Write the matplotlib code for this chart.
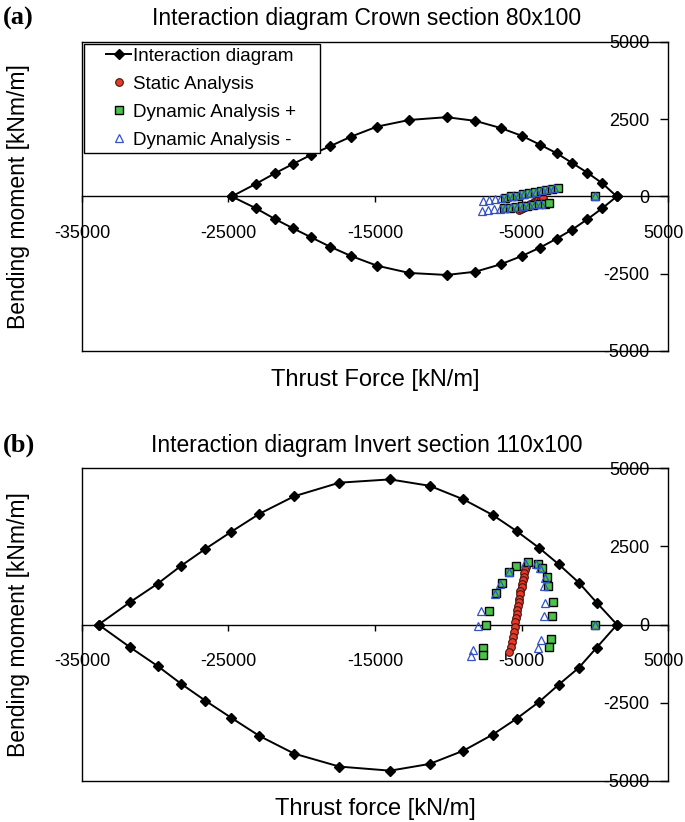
import matplotlib
matplotlib.use("Agg")
import matplotlib.pyplot as plt
import matplotlib.transforms as mtransforms
from matplotlib.lines import Line2D
from matplotlib.legend_handler import HandlerLine2D

plt.rcParams['font.family'] = ['Liberation Sans', 'DejaVu Sans']

# ------------------------------------------------------
# Crown section 80x100 (panel a)
# ------------------------------------------------------
crown_N = [-24780, -23140, -21830, -20600, -19370, -18070, -16640, -14860, -12660,
           -10110, -8150, -6420, -4970, -3740, -2600, -1550, -510, 520, 1500]
crown_M_top = [0, 405, 750, 1050, 1345, 1625, 1935, 2260, 2475,
               2565, 2445, 2215, 1960, 1675, 1400, 1085, 770, 425, 0]
crown_M_bot = [0, -380, -730, -1030, -1320, -1625, -1925, -2240, -2475,
               -2540, -2435, -2195, -1925, -1655, -1365, -1075, -740, -380, 0]

crown_static_N = [-5180, -5040, -4890, -4760, -4590, -4440, -4310, -4140, -3990, -3860, -3690, -3540]
crown_static_M = [-435, -400, -370, -330, -300, -255, -230, -185, -160, -115, -90, -45]

crown_dynp_N = [-6100, -5700, -5300, -4900, -4500, -4100, -3700, -3300, -2900, -2500,
                -6200, -5800, -5400, -5000, -4600, -4200, -3800, -3400, -3100, 0]
crown_dynp_M = [-40, 0, 30, 70, 100, 140, 170, 205, 240, 260,
                -385, -365, -340, -320, -300, -280, -255, -235, -215, 0]

crown_dynm_N = [-7600, -7200, -6800, -6400, -6000, -5600, -5200, -4800, -4400, -4000, -3600, -3200, -2800,
                -7700, -7300, -6900, -6500, -6100, -5700, -5300, -4900, -4500, -4100, -3700, 0]
crown_dynm_M = [-160, -120, -90, -55, -20, 15, 50, 90, 120, 160, 195, 235, 270,
                -470, -440, -420, -395, -375, -350, -330, -305, -285, -260, -240, 0]

# ------------------------------------------------------
# Invert section 110x100 (panel b)
# ------------------------------------------------------
invert_N = [-33870, -31730, -29820, -28240, -26570, -24810, -22890, -20520, -17430,
            -13970, -11270, -8960, -6960, -5330, -3800, -2450, -1090, 130, 1520]
invert_M_top = [0, 715, 1315, 1880, 2425, 2970, 3545, 4105, 4540,
                4645, 4440, 4005, 3505, 2990, 2455, 1925, 1345, 705, 0]
invert_M_bot = [0, -720, -1330, -1890, -2435, -2980, -3560, -4125, -4540,
                -4670, -4455, -4030, -3515, -3005, -2470, -1915, -1380, -735, 0]

invert_static_N = [-4720, -4770, -4810, -4860, -4910, -4950, -5000, -5070, -5110, -5150, -5200,
                   -5250, -5290, -5340, -5390, -5430, -5470, -5540, -5610, -5680, -5750, -5820]
invert_static_M = [1850, 1740, 1640, 1530, 1420, 1310, 1190, 1080, 970, 830, 720,
                   600, 480, 350, 220, 80, -80, -220, -400, -560, -720, -860]

invert_dynp_N = [-4590, -5400, -5820, -6350, -6720, -7210, -7450, -7620, -7660,
                 -3870, -3630, -3290, -3160, -2870, -2890, -3010, -3140, 0]
invert_dynp_M = [2005, 1870, 1685, 1335, 1015, 450, 0, -735, -985,
                 1955, 1815, 1525, 1250, 725, 290, -450, -720, 0]

invert_dynm_N = [-4770, -5860, -6470, -6810, -7740, -7960, -8300, -8470,
                 -4040, -3740, -3430, -3460, -3380, -3480, -3690, -3890, 0]
invert_dynm_M = [1985, 1685, 1315, 995, 425, -30, -800, -1015,
                 1955, 1815, 1505, 1230, 705, 265, -480, -750, 0]

x_ticks = [-35000, -25000, -15000, -5000, 5000]
y_ticks = [-5000, -2500, 0, 2500, 5000]


def drawPanel(fig, ax, N, Mtop, Mbot, sN, sM, pN, pM, mN, mM, title, xlabel, title_pad, xlabel_pad):
    """
    Draws one interaction diagram panel in the old spreadsheet style.
    """
    ax.plot(N + N[::-1], Mtop + Mbot[::-1], color='black', lw=1.4, marker='D', ms=5.5,
            mfc='black', mec='black', label='Interaction diagram', zorder=3)
    ax.plot(sN, sM, ls='none', marker='o', ms=5.5, mfc='#e5392a', mec='#4a140c', mew=0.8,
            label='Static Analysis', zorder=4)
    ax.plot(pN, pM, ls='none', marker='s', ms=5.5, mfc='#4cc24c', mec='black', mew=1.0,
            label='Dynamic Analysis +', zorder=5)
    ax.plot(mN, mM, ls='none', marker='^', ms=6, mfc='none', mec='#3352c4', mew=0.9,
            label='Dynamic Analysis -', zorder=6)

    ax.set_xlim(-35000, 5000)
    ax.set_ylim(-5000, 5000)
    for s in ax.spines.values():
        s.set_linewidth(1.0)
        s.set_color('black')

    # primary x axis carries no ticks, only the label
    ax.tick_params(axis='x', bottom=False, labelbottom=False)
    ax.set_xlabel(xlabel, fontsize=17, labelpad=xlabel_pad)

    # y axis sits on the right edge, labels inside
    ax.yaxis.tick_right()
    ax.set_yticks(y_ticks)
    ax.set_yticklabels([str(v) for v in y_ticks])
    ax.tick_params(axis='y', direction='in', length=5.5, width=1, pad=-13.5, labelsize=13)
    for lab in ax.get_yticklabels():
        lab.set_horizontalalignment('right')
    ax.set_ylabel('Bending moment [kNm/m]', fontsize=16.5)
    ax.yaxis.set_label_position('left')
    ax.yaxis.set_label_coords(-0.089, 0.5)

    # x axis crossing at M = 0
    sec = ax.secondary_xaxis(0.5)
    sec.set_alignment('bottom')
    sec.set_xticks(x_ticks)
    sec.set_xticklabels([str(v) for v in x_ticks])
    sec.tick_params(direction='out', length=4.3, width=1, pad=16, labelsize=13)
    sec.spines['bottom'].set_linewidth(1.0)
    # last label nudged left so it stays inside the chart area
    last = sec.get_xticklabels()[-1]
    last.set_transform(last.get_transform() +
                       mtransforms.ScaledTranslation(-5 / 100, 0, fig.dpi_scale_trans))

    ax.set_title(title, fontsize=16.5, pad=title_pad, x=0.486)


fig = plt.figure(figsize=(6.85, 8.22), dpi=100)
ax_a = fig.add_axes([0.1197, 0.573, 0.8555, 0.376])
ax_b = fig.add_axes([0.1197, 0.0499, 0.8555, 0.3804])

drawPanel(fig, ax_a, crown_N, crown_M_top, crown_M_bot,
          crown_static_N, crown_static_M, crown_dynp_N, crown_dynp_M,
          crown_dynm_N, crown_dynm_M,
          'Interaction diagram Crown section 80x100', 'Thrust Force [kN/m]', 12, 13)
drawPanel(fig, ax_b, invert_N, invert_M_top, invert_M_bot,
          invert_static_N, invert_static_M, invert_dynp_N, invert_dynp_M,
          invert_dynm_N, invert_dynm_M,
          'Interaction diagram Invert section 110x100', 'Thrust force [kN/m]', 12, 12)

leg = ax_a.legend(loc='upper left', bbox_to_anchor=(2 / 586, 0, 236 / 586, 1 - 2 / 309),
                  mode='expand', fontsize=13.5,
                  frameon=True, fancybox=False, edgecolor='black', framealpha=1,
                  borderpad=0.2, labelspacing=0.58, handlelength=2.3,
                  handletextpad=0.1, borderaxespad=0,
                  handler_map={Line2D: HandlerLine2D(xpad=1.0)})
leg.get_frame().set_linewidth(1.0)

fig.text(0.004, 1 - 18 / 822, '(a)', fontsize=19, fontweight='bold',
         family=['Liberation Serif', 'DejaVu Serif'], va='center')
fig.text(0.004, 1 - 445 / 822, '(b)', fontsize=19, fontweight='bold',
         family=['Liberation Serif', 'DejaVu Serif'], va='center')

fig.savefig('out.png', dpi=100)
